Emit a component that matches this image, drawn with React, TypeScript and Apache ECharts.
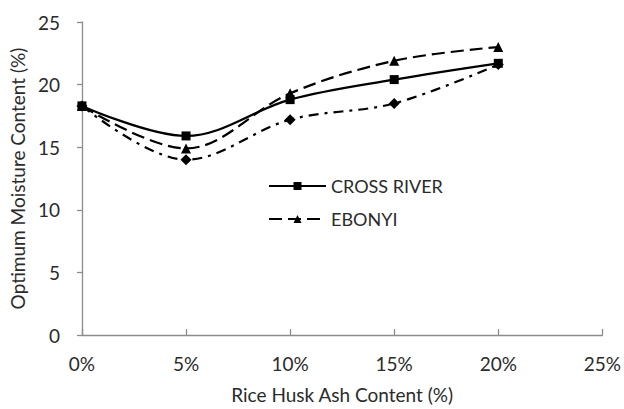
import React, { useEffect, useRef } from "react";
import * as echarts from "echarts";

const ashContent = [0, 5, 10, 15, 20];
const crossRiver = [18.3, 15.9, 18.8, 20.4, 21.7];
const ebonyi = [18.3, 14.9, 19.3, 21.9, 23.0];
const thirdSeries = [18.3, 14.0, 17.2, 18.5, 21.6];
const xTicks = [0, 5, 10, 15, 20, 25];
const yTicks = [0, 5, 10, 15, 20, 25];

const FONT = "Lato, 'Open Sans', sans-serif";
const AXIS_COLOR = "#8c8c8c";
const TEXT_COLOR = "#2b2b2b";

export default function App() {
  const ref = useRef<HTMLDivElement>(null);
  useEffect(() => {
    if (!ref.current) return;
    const chart = echarts.init(ref.current, undefined, { renderer: "svg" });
    const pairs = (ys: number[]) => ashContent.map((x, i) => [x, ys[i]]);
    chart.setOption({
      animation: false,
      backgroundColor: "#ffffff",
      textStyle: { fontFamily: FONT },
      grid: { left: 77.5, right: 21, top: 22, bottom: 71, containLabel: false },
      legend: {
        data: ["CROSS RIVER", "EBONYI"],
        orient: "vertical",
        left: 263,
        top: 172,
        itemWidth: 57,
        itemHeight: 10,
        itemGap: 15,
        textStyle: { fontSize: 18, color: TEXT_COLOR, fontFamily: FONT },
        inactiveColor: "#000",
      },
      xAxis: {
        type: "value",
        min: xTicks[0],
        max: xTicks[xTicks.length - 1],
        interval: 5,
        name: "Rice Husk Ash Content (%)",
        nameLocation: "middle",
        nameGap: 50,
        nameTextStyle: { fontSize: 19, color: TEXT_COLOR, fontFamily: FONT },
        axisLine: { lineStyle: { color: AXIS_COLOR, width: 1.3 } },
        axisTick: { inside: true, length: 6, lineStyle: { color: AXIS_COLOR, width: 1.3 } },
        axisLabel: { formatter: "{value}%", fontSize: 19, color: TEXT_COLOR, margin: 19, fontFamily: FONT },
        splitLine: { show: false },
      },
      yAxis: {
        type: "value",
        min: yTicks[0],
        max: yTicks[yTicks.length - 1],
        interval: 5,
        name: "Optimum Moisture Content (%)",
        nameLocation: "middle",
        nameGap: 52,
        nameTextStyle: { fontSize: 19, color: TEXT_COLOR, fontFamily: FONT },
        axisLine: { show: true, lineStyle: { color: AXIS_COLOR, width: 1.3 } },
        axisTick: { show: true, length: 5, lineStyle: { color: AXIS_COLOR, width: 1.3 } },
        axisLabel: { fontSize: 19, color: TEXT_COLOR, margin: 22, fontFamily: FONT },
        splitLine: { show: false },
      },
      series: [
        {
          name: "CROSS RIVER",
          type: "line",
          smooth: 0.35,
          data: pairs(crossRiver),
          symbol: "rect",
          symbolSize: 9,
          itemStyle: { color: "#000" },
          lineStyle: { color: "#000", width: 2.2, type: "solid" },
          z: 3,
        },
        {
          name: "EBONYI",
          type: "line",
          smooth: 0.35,
          data: pairs(ebonyi),
          symbol: "triangle",
          symbolSize: 10,
          itemStyle: { color: "#000" },
          lineStyle: { color: "#000", width: 2.2, type: [13, 6] },
          z: 2,
        },
        {
          name: "Series 3",
          type: "line",
          smooth: 0.35,
          data: pairs(thirdSeries),
          symbol: "diamond",
          symbolSize: 11,
          itemStyle: { color: "#000" },
          lineStyle: { color: "#000", width: 2.2, type: [10, 6, 3, 6] },
          z: 1,
        },
      ],
    });
    return () => chart.dispose();
  }, []);
  return <div ref={ref} style={{ width: 624, height: 409, position: "absolute", left: 0, top: 0 }} />;
}
